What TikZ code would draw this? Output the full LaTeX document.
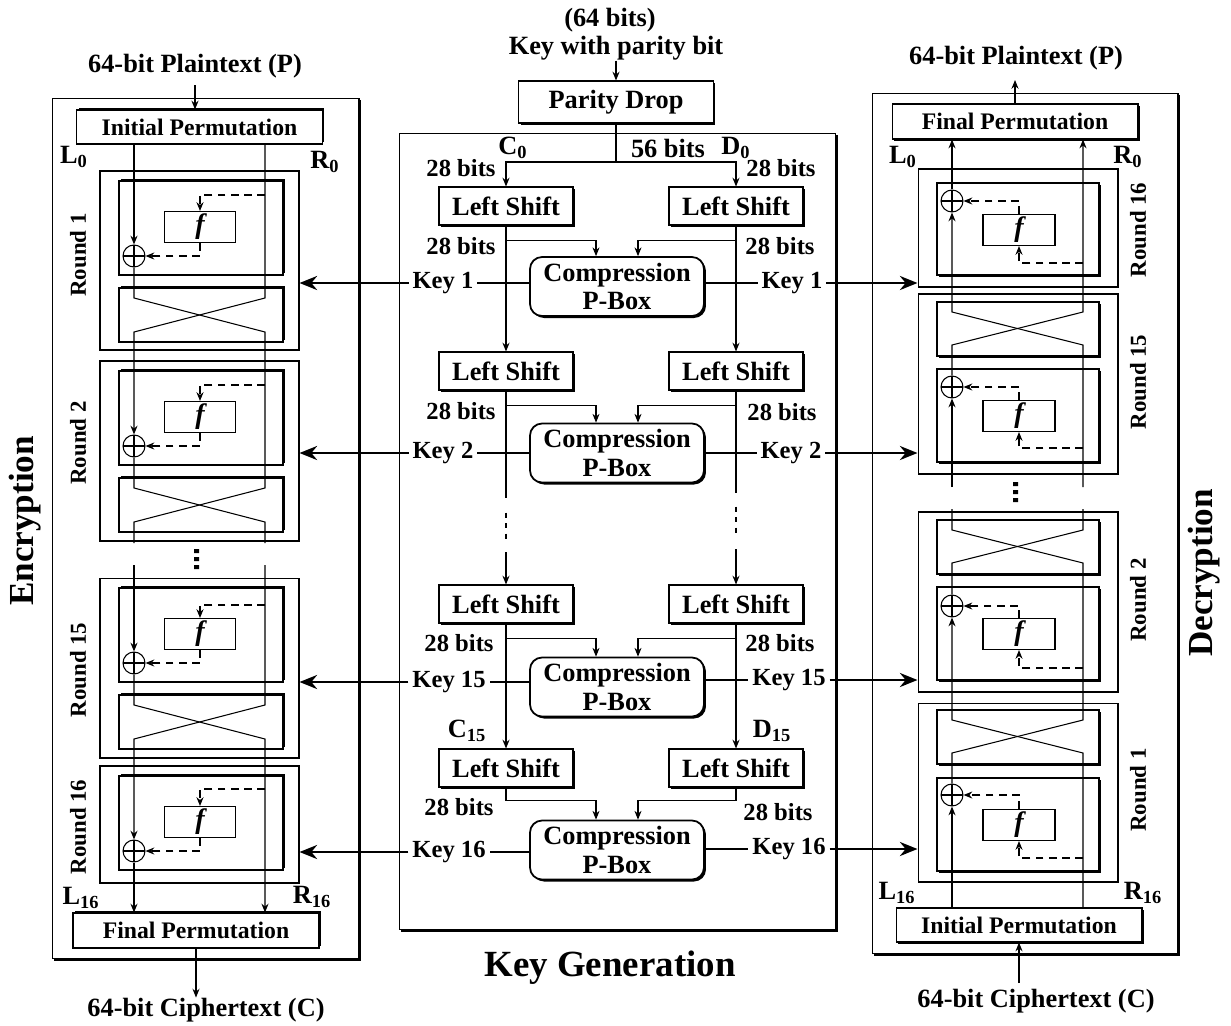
\documentclass[tikz,border=0pt]{standalone}
\usepackage{fontspec}
\setmainfont{Liberation Serif}
\usetikzlibrary{arrows.meta,shadows}
\begin{document}
\begin{tikzpicture}[x=0.02cm, y=-0.02cm, line width=0.6pt,
  arr/.style={-{Stealth[length=5pt,width=4pt]}},
  tap/.style={dash pattern=on 4.5pt off 3pt, -{Stealth[length=5pt,width=4pt]}},
  kline/.style={line width=1.5pt},
  karr/.style={line width=1.5pt, -{Stealth[length=10pt,width=8pt]}},
  txt/.style={inner sep=0pt, font=\bfseries\fontsize{14}{16}\selectfont},
  ttl/.style={inner sep=0pt, font=\bfseries\fontsize{15}{17}\selectfont},
  big/.style={inner sep=0pt, font=\bfseries\fontsize{20}{22}\selectfont},
  rlab/.style={inner sep=0pt, rotate=90, font=\bfseries\fontsize{13}{15}\selectfont},
  keylab/.style={txt, inner sep=2pt},
  blk/.style={draw, fill=white, inner sep=0pt, font=\bfseries\fontsize{15}{16}\selectfont},
  shup/.style={blk, drop shadow={shadow xshift=.04cm, shadow yshift=.04cm, fill=black, opacity=1}},
  shdn/.style={blk, drop shadow={shadow xshift=.04cm, shadow yshift=-.04cm, fill=black, opacity=1}},
  perm/.style={minimum width=4.92cm, minimum height=0.7cm, font=\bfseries\fontsize{13.5}{15}\selectfont},
  lsbox/.style={shdn, minimum width=2.68cm, minimum height=0.76cm},
  cpbox/.style={shdn, rounded corners=.24cm, line width=1pt, minimum width=3.48cm, minimum height=1.18cm, align=center},
  rnd/.style={draw, inner sep=0pt, minimum width=3.98cm},
  inbox/.style={minimum width=3.28cm, minimum height=1.88cm},
  swbox/.style={minimum width=3.28cm, minimum height=1.08cm},
  fnbox/.style={draw, fill=white, inner sep=0pt, minimum width=1.42cm, minimum height=0.62cm, font=\bfseries\itshape\fontsize{16}{16}\selectfont},
  xor/.style={draw, circle, fill=white, inner sep=0pt, minimum size=0.44cm, path picture={\draw (path picture bounding box.north) -- (path picture bounding box.south) (path picture bounding box.west) -- (path picture bounding box.east);}}]
  \useasboundingbox (0,0) rectangle (1231,1025);
  \node[shdn, minimum width=6.14cm, minimum height=17.22cm] (enc) at (205.5,528.5) {};
  \node[shdn, minimum width=8.74cm, minimum height=15.94cm] (kg) at (617.5,531.5) {};
  \node[shdn, minimum width=6.12cm, minimum height=17.22cm] (dec) at (1025,523.5) {};
  \node[big, rotate=90] (enclab) at (25,521) {Encryption};
  \node[big, font=\bfseries\fontsize{21}{23}\selectfont] (kglab) at (610,968) {Key Generation};
  \node[big, rotate=90] (declab) at (1204,573) {Decryption};

  \node[ttl] (ptE) at (195,66) {64-bit Plaintext (P)};
  \node[shup, perm, minimum height=0.68cm] (ipE) at (199.5,127) {Initial Permutation};
  \node[ttl] (l0E) at (74,157) {L\textsubscript{0}};
  \node[ttl] (r0E) at (325,162) {R\textsubscript{0}};
  \node[ttl] (l16E) at (81,898) {L\textsubscript{16}};
  \node[ttl] (r16E) at (312,897) {R\textsubscript{16}};
  \node[shup, perm] (fpE) at (196,930.5) {Final Permutation};
  \node[ttl] (ctE) at (206,1010) {64-bit Ciphertext (C)};
  \fill (194,549) rectangle ++(5,4) (194,557) rectangle ++(5,4) (194,565) rectangle ++(5,4);
  \begin{scope}[shift={(0,171)}]
  \node[rnd, minimum height=3.58cm] (er1) at (199.5,89.5) {};
  \node[shup, inbox] (ei1) at (201,57) {};
  \node[shup, swbox] (es1) at (201,144) {};
  \node[fnbox] (ef1) at (200,56) {f};
  \node[xor] (ex1) at (134,85) {};
  \node[rlab] (en1) at (78,84) {Round 1};
  \coordinate (et1) at (265,24);
  \coordinate (ea1) at (134,127);
  \coordinate (eb1) at (265,127);
  \coordinate (ec1) at (134,161);
  \coordinate (ed1) at (265,161);
  \draw[tap] (et1) -| (ef1.north);
  \draw[tap] (ef1.south) |- (ex1.east);
  \end{scope}
  \begin{scope}[shift={(0,361)}]
  \node[rnd, minimum height=3.6cm] (er2) at (199.5,90) {};
  \node[shup, inbox] (ei2) at (201,57) {};
  \node[shup, swbox] (es2) at (201,144) {};
  \node[fnbox] (ef2) at (200,56) {f};
  \node[xor] (ex2) at (134,85) {};
  \node[rlab] (en2) at (78,82) {Round 2};
  \coordinate (et2) at (265,24);
  \coordinate (ea2) at (134,127);
  \coordinate (eb2) at (265,127);
  \coordinate (ec2) at (134,161);
  \coordinate (ed2) at (265,161);
  \draw[tap] (et2) -| (ef2.north);
  \draw[tap] (ef2.south) |- (ex2.east);
  \end{scope}
  \begin{scope}[shift={(0,578)}]
  \node[rnd, minimum height=3.6cm] (er15) at (199.5,90) {};
  \node[shup, inbox] (ei15) at (201,57) {};
  \node[shup, swbox] (es15) at (201,144) {};
  \node[fnbox] (ef15) at (200,56) {f};
  \node[xor] (ex15) at (134,85) {};
  \node[rlab] (en15) at (78,92) {Round 15};
  \coordinate (et15) at (265,27);
  \coordinate (ea15) at (134,127);
  \coordinate (eb15) at (265,127);
  \coordinate (ec15) at (134,161);
  \coordinate (ed15) at (265,161);
  \draw[tap] (et15) -| (ef15.north);
  \draw[tap] (ef15.south) |- (ex15.east);
  \end{scope}
  \begin{scope}[shift={(0,766)}]
  \node[rnd, minimum height=2.34cm] (er16) at (199.5,58.5) {};
  \node[shup, inbox] (ei16) at (201,57) {};
  \node[fnbox] (ef16) at (200,56) {f};
  \node[xor] (ex16) at (134,85) {};
  \node[rlab] (en16) at (78,61) {Round 16};
  \coordinate (et16) at (265,23);
  \draw[tap] (et16) -| (ef16.north);
  \draw[tap] (ef16.south) |- (ex16.east);
  \end{scope}
  \coordinate (eg1) at (134,543);
  \coordinate (eg2) at (265,543);
  \coordinate (eg3) at (134,565);
  \coordinate (eg4) at (265,565);
  \draw[arr] (ptE.south |- 0,85) -- (ptE.south |- ipE.north);
  \draw[arr] (ex1 |- ipE.south) -- (ex1.north);
  \draw[arr] (eb1 |- ipE.south) -- (eb1) -- (ec1) -- (ex2.north);
  \draw (ex1.south) -- (ea1) -- (ed1) -- (eb2) -- (ec2) -- (eg1);
  \draw (ex2.south) -- (ea2) -- (ed2) -- (eg2);
  \draw[arr] (eg3) -- (ex15.north);
  \draw[arr] (eg4) -- (eb15) -- (ec15) -- (ex16.north);
  \draw[arr] (ex15.south) -- (ea15) -- (ed15) -- (ed15 |- fpE.north);
  \draw[arr] (ex16.south) -- (ex16 |- fpE.north);
  \draw[arr] (fpE.south) -- (fpE.south |- ctE.north);

  \node[ttl] (kb) at (610,20) {(64 bits)};
  \node[ttl] (kp) at (616,48) {Key with parity bit};
  \node[shdn, minimum width=3.9cm, minimum height=0.84cm] (pd) at (616,102) {Parity Drop};
  \node[ttl] (c0) at (513,148) {C\textsubscript{0}};
  \node[ttl] (b56) at (668,148) {56 bits};
  \node[ttl] (d0) at (736,148) {D\textsubscript{0}};
  \node[lsbox] (ls1l) at (506,206) {Left Shift};
  \node[lsbox] (ls1r) at (736,206) {Left Shift};
  \node[cpbox] (cp1) at (617,286.5) {Compression\\P-Box};
  \node[lsbox] (ls2l) at (506,371) {Left Shift};
  \node[lsbox] (ls2r) at (736,371) {Left Shift};
  \node[cpbox] (cp2) at (617,453) {Compression\\P-Box};
  \node[lsbox] (ls3l) at (506,604) {Left Shift};
  \node[lsbox] (ls3r) at (736,604) {Left Shift};
  \node[cpbox] (cp3) at (617,687) {Compression\\P-Box};
  \node[lsbox] (ls4l) at (506,768) {Left Shift};
  \node[lsbox] (ls4r) at (736,768) {Left Shift};
  \node[cpbox] (cp4) at (617,850) {Compression\\P-Box};
  \node[txt] (b1l) at (461,168) {28 bits};
  \node[txt] (b1r) at (781,168) {28 bits};
  \node[txt] (b2l) at (461,246) {28 bits};
  \node[txt] (b2r) at (780,246) {28 bits};
  \node[txt] (b3l) at (461,411) {28 bits};
  \node[txt] (b3r) at (782,412) {28 bits};
  \node[txt] (b4l) at (459,643) {28 bits};
  \node[txt] (b4r) at (780,643) {28 bits};
  \node[ttl] (c15) at (467,731) {C\textsubscript{15}};
  \node[ttl] (d15) at (772,731) {D\textsubscript{15}};
  \node[txt] (b5l) at (459,807) {28 bits};
  \node[txt] (b5r) at (778,812) {28 bits};
  \node[keylab] (k1l) at (443,283) {Key 1};
  \node[keylab] (k1r) at (792,283) {Key 1};
  \node[keylab] (k2l) at (443,453) {Key 2};
  \node[keylab] (k2r) at (791,453) {Key 2};
  \node[keylab] (k15l) at (449,682) {Key 15};
  \node[keylab] (k15r) at (789,680) {Key 15};
  \node[keylab] (k16l) at (449,852) {Key 16};
  \node[keylab] (k16r) at (789,849) {Key 16};
  \coordinate (sp) at (616,162);
  \draw[arr] (kp.south) -- (pd.north);
  \draw (pd.south) -- (sp);
  \draw[arr] (sp) -| (ls1l.north);
  \draw[arr] (sp) -| (ls1r.north);
  \draw[arr] (ls1l.south) -- ++(0,15) -| ([xshift=-.42cm]cp1.north);
  \draw[arr] (ls1r.south) -- ++(0,15) -| ([xshift=.42cm]cp1.north);
  \draw[arr] (ls1l.south) -- (ls2l.north);
  \draw[arr] (ls1r.south) -- (ls2r.north);
  \draw[arr] (ls2l.south) -- ++(0,15) -| ([xshift=-.42cm]cp2.north);
  \draw[arr] (ls2r.south) -- ++(0,15) -| ([xshift=.42cm]cp2.north);
  \draw (ls2l.south) -- ++(0,107);
  \draw[dashed] ([yshift=-2.44cm]ls2l.south) -- ++(0,27);
  \draw[arr] ([yshift=.64cm]ls3l.north) -- (ls3l.north);
  \draw (ls2r.south) -- ++(0,102);
  \draw[dashed] ([yshift=-2.32cm]ls2r.south) -- ++(0,30);
  \draw[arr] ([yshift=.7cm]ls3r.north) -- (ls3r.north);
  \draw[arr] (ls3l.south) -- ++(0,15) -| ([xshift=-.42cm]cp3.north);
  \draw[arr] (ls3r.south) -- ++(0,15) -| ([xshift=.42cm]cp3.north);
  \draw[arr] (ls3l.south) -- (ls4l.north);
  \draw[arr] (ls3r.south) -- (ls4r.north);
  \draw[arr] (ls4l.south) -- ++(0,13) -| ([xshift=-.42cm]cp4.north);
  \draw[arr] (ls4r.south) -- ++(0,13) -| ([xshift=.42cm]cp4.north);

  \node[ttl] (ptD) at (1016,58) {64-bit Plaintext (P)};
  \node[shdn, perm] (fpD) at (1015,121.5) {Final Permutation};
  \node[ttl] (l0D) at (903,157) {L\textsubscript{0}};
  \node[ttl] (r0D) at (1128,157) {R\textsubscript{0}};
  \node[ttl] (l16D) at (897,893) {L\textsubscript{16}};
  \node[ttl] (r16D) at (1143,893) {R\textsubscript{16}};
  \node[shdn, perm, minimum height=0.68cm] (ipD) at (1019,925) {Initial Permutation};
  \node[ttl] (ctD) at (1036,1001) {64-bit Ciphertext (C)};
  \fill (1013,482) rectangle ++(5,4) (1013,490) rectangle ++(5,4) (1013,498) rectangle ++(5,4);
  \begin{scope}[shift={(0,169)}]
  \node[rnd, minimum width=4cm, minimum height=2.36cm] (dr16) at (1018,59) {};
  \node[shdn, inbox, minimum width=3.24cm, minimum height=1.84cm] (di16) at (1018,60) {};
  \node[fnbox, minimum width=1.44cm] (df16) at (1019,61) {f};
  \node[xor] (dx16) at (952,32) {};
  \node[rlab] (dn16) at (1138,61) {Round 16};
  \coordinate (dt16) at (1083,94);
  \draw[tap] (dt16) -| (df16.south);
  \draw[tap] (df16.north) |- (dx16.east);
  \end{scope}
  \begin{scope}[shift={(0,294)}]
  \node[rnd, minimum width=4cm, minimum height=3.6cm] (dr15) at (1018,90) {};
  \node[shdn, swbox, minimum width=3.24cm] (ds15) at (1018,35) {};
  \node[shdn, inbox, minimum width=3.24cm, minimum height=1.86cm] (di15) at (1018,121.5) {};
  \node[fnbox, minimum width=1.44cm] (df15) at (1019,122) {f};
  \node[xor] (dx15) at (952,93) {};
  \node[rlab] (dn15) at (1138,88) {Round 15};
  \coordinate (dt15) at (1083,154);
  \coordinate (da15) at (952,51);
  \coordinate (db15) at (1083,51);
  \coordinate (dc15) at (952,18);
  \coordinate (dd15) at (1083,18);
  \draw[tap] (dt15) -| (df15.south);
  \draw[tap] (df15.north) |- (dx15.east);
  \end{scope}
  \begin{scope}[shift={(0,512)}]
  \node[rnd, minimum width=4cm, minimum height=3.6cm] (dr2) at (1018,90) {};
  \node[shdn, swbox, minimum width=3.24cm] (ds2) at (1018,35) {};
  \node[shdn, inbox, minimum width=3.24cm, minimum height=1.86cm] (di2) at (1018,121.5) {};
  \node[fnbox, minimum width=1.44cm] (df2) at (1019,122) {f};
  \node[xor] (dx2) at (952,94) {};
  \node[rlab] (dn2) at (1138,88) {Round 2};
  \coordinate (dt2) at (1083,156);
  \coordinate (da2) at (952,51);
  \coordinate (db2) at (1083,51);
  \coordinate (dc2) at (952,18);
  \coordinate (dd2) at (1083,18);
  \draw[tap] (dt2) -| (df2.south);
  \draw[tap] (df2.north) |- (dx2.east);
  \end{scope}
  \begin{scope}[shift={(0,703)}]
  \node[rnd, minimum width=4cm, minimum height=3.58cm] (dr1) at (1018,89.5) {};
  \node[shdn, swbox, minimum width=3.24cm] (ds1) at (1018,34) {};
  \node[shdn, inbox, minimum width=3.24cm, minimum height=1.86cm] (di1) at (1018,121.5) {};
  \node[fnbox, minimum width=1.44cm] (df1) at (1019,122) {f};
  \node[xor] (dx1) at (952,92) {};
  \node[rlab] (dn1) at (1138,87) {Round 1};
  \coordinate (dt1) at (1083,155);
  \coordinate (da1) at (952,50);
  \coordinate (db1) at (1083,50);
  \coordinate (dc1) at (952,17);
  \coordinate (dd1) at (1083,17);
  \draw[tap] (dt1) -| (df1.south);
  \draw[tap] (df1.north) |- (dx1.east);
  \end{scope}
  \coordinate (dg1) at (952,509);
  \coordinate (dg2) at (1083,509);
  \coordinate (dg3) at (952,487);
  \coordinate (dg4) at (1083,487);
  \draw[arr] (dx1 |- ipD.north) -- (dx1.south);
  \draw[arr] (db1 |- ipD.north) -- (db1) -- (dc1) -- (dx2.south);
  \draw (dx1.north) -- (da1) -- (dd1) -- (db2) -- (dc2) -- (dg1);
  \draw (dx2.north) -- (da2) -- (dd2) -- (dg2);
  \draw[arr] (dg3) -- (dx15.south);
  \draw[arr] (dg4) -- (db15) -- (dc15) -- (dx16.south);
  \draw[arr] (dx15.north) -- (da15) -- (dd15) -- (dd15 |- fpD.south);
  \draw[arr] (dx16.north) -- (dx16 |- fpD.south);
  \draw[arr] (fpD.north) -- (fpD.north |- 0,80);
  \draw[arr] (ipD.south |- 0,983) -- (ipD.south);

  \draw[kline] (k1l.east -| cp1.west) -- (k1l.east);
  \draw[karr] (k1l.west) -- (k1l.west -| er1.east);
  \draw[kline] (k1r.west -| cp1.east) -- (k1r.west);
  \draw[karr] (k1r.east) -- (k1r.east -| dr16.west);
  \draw[kline] (k2l.east -| cp2.west) -- (k2l.east);
  \draw[karr] (k2l.west) -- (k2l.west -| er2.east);
  \draw[kline] (k2r.west -| cp2.east) -- (k2r.west);
  \draw[karr] (k2r.east) -- (k2r.east -| dr15.west);
  \draw[kline] (k15l.east -| cp3.west) -- (k15l.east);
  \draw[karr] (k15l.west) -- (k15l.west -| er15.east);
  \draw[kline] (k15r.west -| cp3.east) -- (k15r.west);
  \draw[karr] (k15r.east) -- (k15r.east -| dr2.west);
  \draw[kline] (k16l.east -| cp4.west) -- (k16l.east);
  \draw[karr] (k16l.west) -- (k16l.west -| er16.east);
  \draw[kline] (k16r.west -| cp4.east) -- (k16r.west);
  \draw[karr] (k16r.east) -- (k16r.east -| dr1.west);
\end{tikzpicture}
\end{document}
